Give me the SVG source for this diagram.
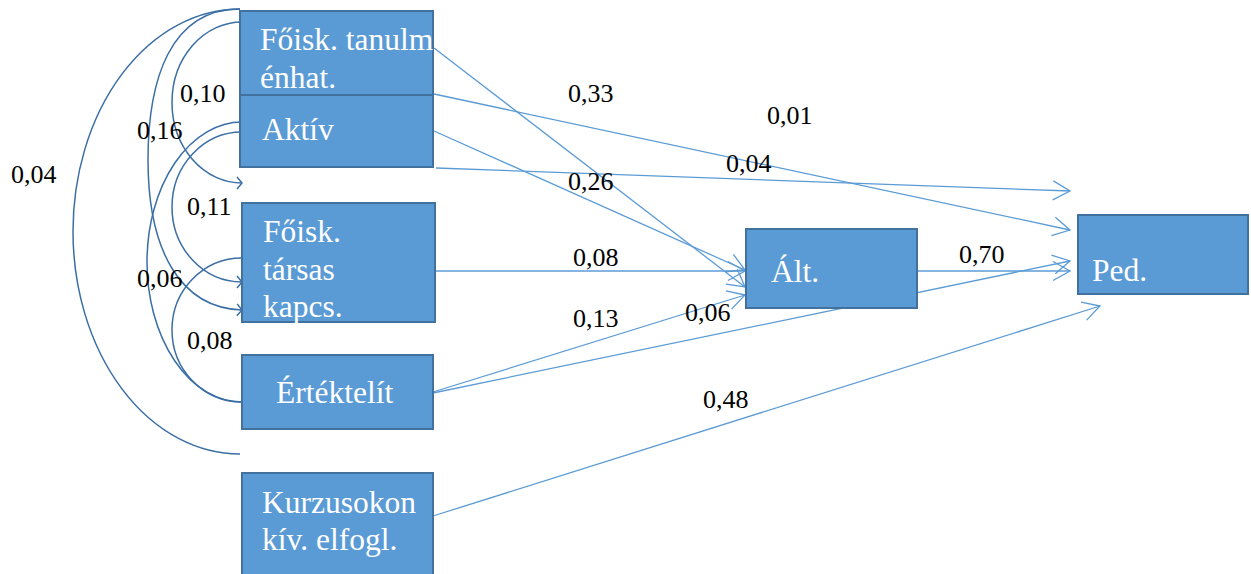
<svg xmlns="http://www.w3.org/2000/svg" width="1251" height="574" viewBox="0 0 1251 574">
<style>
.box{fill:#5B9BD5;stroke:#41719C;stroke-width:2}
.bt{fill:#FFFFFF;font-family:'Liberation Serif',Tinos,'Times New Roman',Times,'DejaVu Serif',serif;font-size:31.5px}
.lb{fill:#000000;font-family:'Liberation Serif',Tinos,'Times New Roman',Times,'DejaVu Serif',serif;font-size:26px}
.ln{fill:none;stroke:#5B9BD5;stroke-width:1.3;marker-end:url(#arr)}
.cv{fill:none;stroke:#3B6EA5;stroke-width:1.5}
.cva{marker-end:url(#arrs)}
</style>
<defs>
<marker id="arr" markerUnits="userSpaceOnUse" markerWidth="20" markerHeight="20" refX="17" refY="9.5" orient="auto" overflow="visible">
<path d="M0,0 L17,9.5 L0,19" fill="none" stroke="#5B9BD5" stroke-width="1.3"/>
</marker>
<marker id="arrs" markerUnits="userSpaceOnUse" markerWidth="10" markerHeight="12" refX="5" refY="6" orient="auto" overflow="visible">
<path d="M0,0 L5,6 L0,12" fill="none" stroke="#3B6EA5" stroke-width="1.5"/>
</marker>
</defs>
<g id="connectors">
<path class="cv" d="M240,9 A167,222.5 0 0 0 240,454"/>
<path class="cv cva" d="M240,9 C170,9 148,80 148,160 C148,250 180,308 242,310"/>
<path class="cv cva" d="M242,22 A70,80.5 0 0 0 242,183"/>
<path class="cv cva" d="M242,132 A70,75 0 0 0 242,282"/>
<path class="cv" d="M242,122 A95,140 0 0 0 242,402"/>
<path class="cv" d="M242,258 A70,72 0 0 0 242,402"/>
<path class="ln" d="M434,48 L745,287"/>
<path class="ln" d="M434,131 L745,270"/>
<path class="ln" d="M435,271 L745,271"/>
<path class="ln" d="M433,392 L745,295"/>
<path class="ln" d="M433,393 L1070,261"/>
<path class="ln" d="M434,94 L1070,230"/>
<path class="ln" d="M436,168 L1070,191"/>
<path class="ln" d="M917,271 L1070,271"/>
<path class="ln" d="M433,516 L1100,306"/>
</g>
<g id="n-foisk-tanulm">
<rect class="box" x="240" y="11" width="193" height="84"/>
<text class="bt" x="260" y="50">Főisk. tanulm</text>
<text class="bt" x="260" y="88">énhat.</text>
</g>
<g id="n-aktiv">
<rect class="box" x="240" y="95" width="193" height="72"/>
<text class="bt" x="262" y="140">Aktív</text>
</g>
<g id="n-foisk-tarsas">
<rect class="box" x="242" y="203" width="193" height="119"/>
<text class="bt" x="263" y="242">Főisk.</text>
<text class="bt" x="263" y="280">társas</text>
<text class="bt" x="263" y="317">kapcs.</text>
</g>
<g id="n-ertektelit">
<rect class="box" x="242" y="355" width="191" height="74"/>
<text class="bt" x="276" y="403">Értéktelít</text>
</g>
<g id="n-kurzusokon">
<rect class="box" x="242" y="473" width="191" height="110"/>
<text class="bt" x="262" y="513">Kurzusokon</text>
<text class="bt" x="262" y="550">kív. elfogl.</text>
</g>
<g id="n-alt">
<rect class="box" x="746" y="229" width="171" height="79"/>
<text class="bt" x="771" y="282">Ált.</text>
</g>
<g id="n-ped">
<rect class="box" x="1078" y="215" width="170" height="79"/>
<text class="bt" x="1092" y="281">Ped.</text>
</g>
<g id="labels">
<text class="lb" x="11" y="183">0,04</text>
<text class="lb" x="180" y="102">0,10</text>
<text class="lb" x="137" y="139">0,16</text>
<text class="lb" x="187" y="215">0,11</text>
<text class="lb" x="137" y="287">0,06</text>
<text class="lb" x="187" y="349">0,08</text>
<text class="lb" x="568" y="102">0,33</text>
<text class="lb" x="767" y="124">0,01</text>
<text class="lb" x="726" y="172">0,04</text>
<text class="lb" x="568" y="190">0,26</text>
<text class="lb" x="573" y="266">0,08</text>
<text class="lb" x="573" y="327">0,13</text>
<text class="lb" x="685" y="321">0,06</text>
<text class="lb" x="959" y="263">0,70</text>
<text class="lb" x="703" y="408">0,48</text>
</g>
</svg>
